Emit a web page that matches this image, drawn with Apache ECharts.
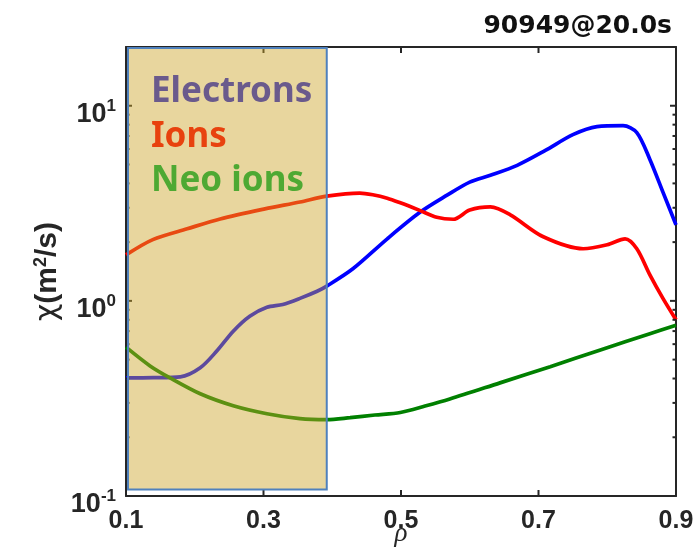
<!DOCTYPE html>
<html>
<head>
<meta charset="utf-8">
<script src="https://cdn.jsdelivr.net/npm/echarts@6/dist/echarts.min.js"></script>
<style>
html,body{margin:0;padding:0;background:#fff;}
#chart{width:699px;height:554px;}
</style>
</head>
<body>
<div id="chart"></div>
<script>
// ---- data ----
const X_MIN = 0.1, X_MAX = 0.9;
const Y_MIN = 0.1, Y_MAX = 20;
const xTickValues = [0.1, 0.3, 0.5, 0.7, 0.9];
const yMajorTicks = [0.1, 1, 10];
const yMinorTicks = [0.2,0.3,0.4,0.5,0.6,0.7,0.8,0.9,2,3,4,5,6,7,8,9];

const electronsX = [0.1, 0.14, 0.179, 0.208, 0.232, 0.256, 0.280, 0.305, 0.328, 0.353, 0.378, 0.392, 0.430, 0.480, 0.528, 0.567, 0.600, 0.630, 0.669, 0.710, 0.750, 0.785, 0.823, 0.843, 0.862, 0.881, 0.9];
const electronsY = [0.403, 0.404, 0.408, 0.454, 0.553, 0.699, 0.834, 0.927, 0.959, 1.03, 1.12, 1.19, 1.46, 2.08, 2.85, 3.48, 4.06, 4.40, 4.95, 5.90, 7.11, 7.82, 7.91, 7.29, 5.31, 3.61, 2.45];

const ionsX = [0.1, 0.139, 0.189, 0.237, 0.302, 0.353, 0.392, 0.440, 0.459, 0.480, 0.499, 0.528, 0.552, 0.576, 0.600, 0.630, 0.659, 0.707, 0.765, 0.800, 0.826, 0.843, 0.862, 0.881, 0.9];
const ionsY = [1.72, 2.06, 2.34, 2.63, 2.96, 3.21, 3.44, 3.57, 3.50, 3.36, 3.18, 2.90, 2.68, 2.62, 2.92, 3.03, 2.76, 2.13, 1.85, 1.94, 2.08, 1.85, 1.36, 1.03, 0.80];

const neoX = [0.1, 0.135, 0.164, 0.208, 0.256, 0.305, 0.353, 0.392, 0.426, 0.462, 0.499, 0.535, 0.571, 0.644, 0.717, 0.790, 0.862, 0.9];
const neoY = [0.579, 0.464, 0.403, 0.334, 0.290, 0.264, 0.249, 0.246, 0.252, 0.260, 0.268, 0.289, 0.314, 0.380, 0.460, 0.560, 0.679, 0.750];

const shadeRange = [0.1, 0.108, 0.392, 20]; // x0, y0, x1, y1
const titleText = '90949@20.0s';
const legendNames = ['Electrons', 'Ions', 'Neo ions'];

// ---- chart ----
const AX = '#262626';
const pair = (xs, ys) => xs.map((x, i) => [x, ys[i]]);
const chart = echarts.init(document.getElementById('chart'), null, {renderer: 'canvas'});

const lineSeries = (data, color) => ({
  type: 'line', data, showSymbol: false, smooth: 0.3,
  lineStyle: {color, width: 3.7}, z: 2, xAxisIndex: 0, yAxisIndex: 0,
  animation: false
});

// inward ticks on all four frame sides, placed through the axes' own scales
const ySideTicks = (values, len) => ({
  type: 'custom', xAxisIndex: 0, yAxisIndex: 0, z: 3, silent: true, clip: false,
  data: values.map(v => [X_MIN, v]), encode: {x: 0, y: 1},
  renderItem: (params, api) => {
    const v = api.value(1);
    const pl = api.coord([X_MIN, v]), pr = api.coord([X_MAX, v]);
    return {type: 'group', children: [
      {type: 'rect', shape: {x: pl[0], y: pl[1] - 1, width: len, height: 2}, style: {fill: AX}},
      {type: 'rect', shape: {x: pr[0] - len, y: pr[1] - 1, width: len, height: 2}, style: {fill: AX}}
    ]};
  }
});
const xSideTicks = (values, len) => ({
  type: 'custom', xAxisIndex: 0, yAxisIndex: 0, z: 3, silent: true, clip: false,
  data: values.map(v => [v, Y_MIN]), encode: {x: 0, y: 1},
  renderItem: (params, api) => {
    const v = api.value(0);
    const pb = api.coord([v, Y_MIN]), pt = api.coord([v, Y_MAX]);
    return {type: 'group', children: [
      {type: 'rect', shape: {x: pb[0] - 1, y: pb[1] - len, width: 2, height: len}, style: {fill: AX}},
      {type: 'rect', shape: {x: pt[0] - 1, y: pt[1], width: 2, height: len}, style: {fill: AX}}
    ]};
  }
});

const axLine = () => ({show: true, onZero: false, lineStyle: {color: AX, width: 2}});

const option = {
  animation: false,
  backgroundColor: '#fff',
  title: {
    text: titleText, right: 22, top: 9,
    textStyle: {fontFamily: 'DejaVu Sans', fontWeight: 'bold', fontSize: 25, color: '#111'}
  },
  grid: {left: 126, right: 23, top: 47, bottom: 58, containLabel: false, outerBoundsMode: 'none'},
  xAxis: [{
    type: 'value', min: X_MIN, max: X_MAX, position: 'bottom',
    name: 'ρ', nameLocation: 'middle', nameGap: 24, nameMoveOverlap: false,
    nameTextStyle: {fontFamily: 'Liberation Serif', fontStyle: 'italic', fontSize: 27, color: AX},
    axisLine: axLine(),
    axisTick: {show: false},
    axisLabel: {customValues: xTickValues, margin: 13, fontFamily: 'Liberation Sans', fontWeight: 'bold', fontSize: 25, color: AX,
      formatter: v => v.toFixed(1)},
    splitLine: {show: false}
  }, {
    type: 'value', min: X_MIN, max: X_MAX, position: 'top',
    axisLine: axLine(), axisTick: {show: false},
    axisLabel: {show: false}, splitLine: {show: false}
  }],
  yAxis: [{
    type: 'log', logBase: 10, min: Y_MIN, max: Y_MAX, position: 'left',
    name: '{c|χ}{b|(m}{s|2}{b|/s)}', nameLocation: 'middle', nameGap: 62, nameMoveOverlap: false,
    nameTextStyle: {
      color: AX,
      rich: {
        c: {fontFamily: 'DejaVu Sans', fontSize: 30, color: AX, lineHeight: 32},
        b: {fontFamily: 'Liberation Sans', fontWeight: 'bold', fontSize: 30, color: AX, lineHeight: 32},
        s: {fontFamily: 'Liberation Sans', fontWeight: 'bold', fontSize: 18, color: AX, lineHeight: 32, verticalAlign: 'top'}
      }
    },
    axisLine: axLine(),
    axisTick: {show: false},
    axisLabel: {
      margin: 10, showMaxLabel: false, padding: [14, 0, 0, 0],
      formatter: v => '{b|10}{s|' + Math.round(Math.log10(v)) + '}',
      rich: {
        b: {fontFamily: 'Liberation Sans', fontWeight: 'bold', fontSize: 27, color: AX, lineHeight: 30, verticalAlign: 'bottom'},
        s: {fontFamily: 'Liberation Sans', fontWeight: 'bold', fontSize: 17, color: AX, lineHeight: 30, verticalAlign: 'top'}
      }
    },
    splitLine: {show: false}
  }, {
    type: 'log', logBase: 10, min: Y_MIN, max: Y_MAX, position: 'right',
    axisLine: axLine(), axisTick: {show: false},
    axisLabel: {show: false}, splitLine: {show: false}
  }],
  series: [
    lineSeries(pair(electronsX, electronsY), '#0000FF'),
    lineSeries(pair(ionsX, ionsY), '#FF0000'),
    lineSeries(pair(neoX, neoY), '#008000'),
    ySideTicks(yMajorTicks, 6),
    ySideTicks(yMinorTicks, 3.5),
    xSideTicks(xTickValues, 6),
    {
      // translucent shaded region drawn over the curves
      type: 'custom', xAxisIndex: 0, yAxisIndex: 0, z: 5, silent: true,
      data: [shadeRange],
      encode: {x: [0, 2], y: [1, 3]},
      renderItem: (params, api) => {
        const p0 = api.coord([api.value(0), api.value(3)]);
        const p1 = api.coord([api.value(2), api.value(1)]);
        return {
          type: 'rect',
          shape: {x: p0[0] + 2, y: p0[1] + 1, width: p1[0] - p0[0] - 2, height: p1[1] - p0[1] - 1},
          style: {fill: 'rgba(204,164,39,0.45)', stroke: '#4F81BD', lineWidth: 2}
        };
      }
    }
  ],
  graphic: [
    {type: 'text', left: 151, top: 75, z: 100, style: {text: legendNames[0], fill: '#6A5A8C', font: 'bold 35px "Noto Sans"'}},
    {type: 'text', left: 151, top: 120, z: 100, style: {text: legendNames[1], fill: '#E8420E', font: 'bold 35px "Noto Sans"'}},
    {type: 'text', left: 151, top: 164, z: 100, style: {text: legendNames[2], fill: '#4EA933', font: 'bold 35px "Noto Sans"'}}
  ]
};
chart.setOption(option);
</script>
</body>
</html>
